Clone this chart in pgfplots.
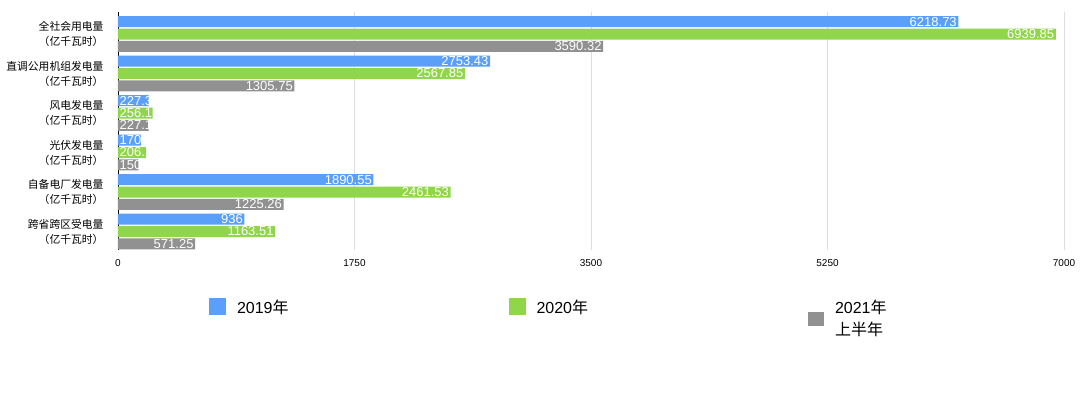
\documentclass[border=0pt]{standalone}
\usepackage{pgfplots}
\usepackage{pgfplotstable}
\pgfplotsset{compat=1.18}
\usepackage{fontspec}
\setmainfont{Liberation Sans}
\newfontfamily\cjk{Noto Sans CJK SC}
\definecolor{c19}{RGB}{90,160,250}
\definecolor{c20}{RGB}{144,214,74}
\definecolor{c21}{RGB}{145,145,145}
\definecolor{cgrid}{RGB}{222,222,222}

% large bars (label inside, right-aligned)
\pgfplotstableread{
y v
0 6218.73
1 2753.43
4 1890.55
5 936
}\tA
\pgfplotstableread{
y v
0 6939.85
1 2567.85
4 2461.53
5 1163.51
}\tB
\pgfplotstableread{
y v
0 3590.32
1 1305.75
4 1225.26
5 571.25
}\tC
% small bars (label starts at the bar's base, cut at its end)
\pgfplotstableread{
y v
2 227.3
3 170
}\sA
\pgfplotstableread{
y v
2 256.1
3 206.1
}\sB
\pgfplotstableread{
y v
2 227.1
3 150
}\sC

\pgfplotsset{
  lab/.style={
    nodes near coords={\pgfmathprintnumber[fixed, precision=2]{\pgfplotspointmeta}},
    point meta=rawx,
    every node near coord/.append style={font=\fontsize{13}{13}\selectfont, text=white, inner sep=1.5pt, anchor=east},
  },
  slab/.style={
    nodes near coords={\pgfmathprintnumber[fixed, precision=2]{\pgfplotspointmeta}},
    point meta=rawx,
    visualization depends on={rawx \as \rx},
    every node near coord/.append style={font=\fontsize{13}{13}\selectfont, text=white, inner sep=1.5pt, anchor=west, xshift=-\rx*0.135143pt},
  },
}

\begin{document}
\begin{tikzpicture}
\path[use as bounding box, fill=white] (0,0) rectangle (1080pt,397pt);
\begin{axis}[
  at={(118pt,385pt)}, anchor=north west,
  scale only axis, width=946pt, height=238pt,
  xbar, bar width=11pt,
  xmin=0, xmax=7000, ymin=-0.557, ymax=5.468, y dir=reverse,
  xtick={0,1750,3500,5250,7000},
  ytick={0,1,2,3,4,5},
  yticklabels={
    {全社会用电量\\（亿千瓦时）},
    {直调公用机组发电量\\（亿千瓦时）},
    {风电发电量\\（亿千瓦时）},
    {光伏发电量\\（亿千瓦时）},
    {自备电厂发电量\\（亿千瓦时）},
    {跨省跨区受电量\\（亿千瓦时）}},
  yticklabel style={align=right, font=\cjk\fontsize{10.8}{15}\selectfont, inner sep=0pt, xshift=-10pt},
  xticklabel style={font=\fontsize{10}{10}\selectfont, yshift=-6pt},
  /pgf/number format/assume math mode=true,
  /pgf/number format/set thousands separator={},
  axis x line*=bottom, axis y line*=left,
  axis line style={-},
  x axis line style={draw=none},
  y axis line style={black, line width=0.8pt},
  tick style={draw=none},
  xmajorgrids, major grid style={cgrid, line width=0.7pt},
  clip=false,
  legend columns=3,
  legend style={at={(axis description cs:0.0962,-0.2017)}, anchor=north west,
    draw=none, fill=none, inner sep=0pt, outer sep=0pt,
    font=\fontsize{16}{22}\selectfont,
    /tikz/column sep=0pt,
    /tikz/every odd column/.append style={column sep=11pt},
    nodes={inner sep=0pt, text width=271.5pt, align=left},
    cells={anchor=base west}},
]
\addplot[fill=c19, draw=none, bar shift=12.3pt, lab,
  legend image code/.code={\fill[c19] (0pt,-2pt) rectangle (17pt,15pt);}]
  table[x=v, y=y] {\tA};
\addlegendentry{2019{\cjk 年}}
\addplot[fill=c20, draw=none, bar shift=0pt, lab,
  legend image code/.code={\fill[c20] (0pt,-2pt) rectangle (17pt,15pt);}]
  table[x=v, y=y] {\tB};
\addlegendentry{2020{\cjk 年}}
\addplot[fill=c21, draw=none, bar shift=-12.3pt, lab,
  legend image code/.code={\fill[c21] (0pt,-13pt) rectangle (16pt,1pt);}]
  table[x=v, y=y] {\tC};
\addlegendentry{2021{\cjk 年}\\{\cjk 上半年}}
\addplot[fill=c19, draw=none, bar shift=12.3pt, slab, forget plot] table[x=v, y=y] {\sA};
\addplot[fill=c20, draw=none, bar shift=0pt, slab, forget plot] table[x=v, y=y] {\sB};
\addplot[fill=c21, draw=none, bar shift=-12.3pt, slab, forget plot] table[x=v, y=y] {\sC};
\end{axis}
\end{tikzpicture}
\end{document}
